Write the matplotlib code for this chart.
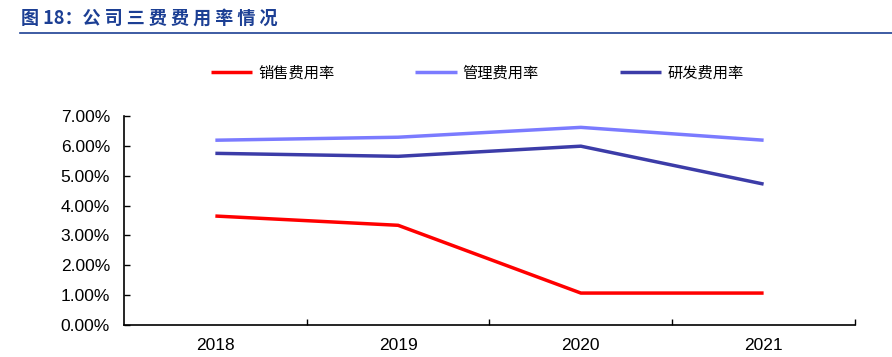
import matplotlib.pyplot as plt
from matplotlib.ticker import FuncFormatter

plt.rcParams['font.family'] = ['Liberation Sans', 'Noto Sans CJK SC', 'DejaVu Sans']

years = ['2018', '2019', '2020', '2021']
sales_rate = [3.65, 3.34, 1.07, 1.07]
admin_rate = [6.19, 6.29, 6.62, 6.19]
rd_rate = [5.75, 5.65, 5.99, 4.72]

fig = plt.figure(figsize=(8.92, 3.57), dpi=100)

# title and rule
fig.text(0.024, 0.948, '图 18：公 司 三 费 费 用 率 情 况', color='#1c3f94', fontsize=13,
         fontweight='bold', family=['Noto Sans CJK SC', 'DejaVu Sans'], va='center')
fig.add_artist(plt.Line2D([0.022, 1.0], [0.907, 0.907], color='#1c3f94', lw=1.2))

ax = fig.add_axes([0.139, 0.0896, 0.8195, 0.5854])
x = range(len(years))
ax.plot(x, sales_rate, color='#ff0000', lw=2.5, label='销售费用率', solid_capstyle='butt')
ax.plot(x, admin_rate, color='#7b7bff', lw=2.5, label='管理费用率', solid_capstyle='butt')
ax.plot(x, rd_rate, color='#3c3ca8', lw=2.5, label='研发费用率', solid_capstyle='butt')

ax.set_xlim(-0.5, len(years) - 0.5)
ax.set_ylim(0, 7)
ax.set_yticks(range(0, 8))
ax.yaxis.set_major_formatter(FuncFormatter(lambda v, p: f'{v:.2f}%'))
ax.set_xticks(x)
ax.set_xticklabels(years)
ax.set_xticks([i + 0.5 for i in range(len(years))], minor=True)
ax.tick_params(axis='x', which='major', length=0, pad=9, labelsize=12.5)
ax.tick_params(axis='x', which='minor', length=4, direction='in', width=1)
ax.tick_params(axis='y', length=4, direction='in', width=1, labelsize=12.5, pad=10)

for s in ['top', 'right']:
    ax.spines[s].set_visible(False)
for s in ['left', 'bottom']:
    ax.spines[s].set_linewidth(1.2)

leg = fig.legend(loc='center', bbox_to_anchor=(0.535, 0.795), ncol=3, frameon=False,
                 prop={'family': ['Noto Sans CJK SC', 'DejaVu Sans'], 'size': 11},
                 handlelength=2.7, handletextpad=0.4, columnspacing=5.3)

fig.savefig('out.png', dpi=100)
